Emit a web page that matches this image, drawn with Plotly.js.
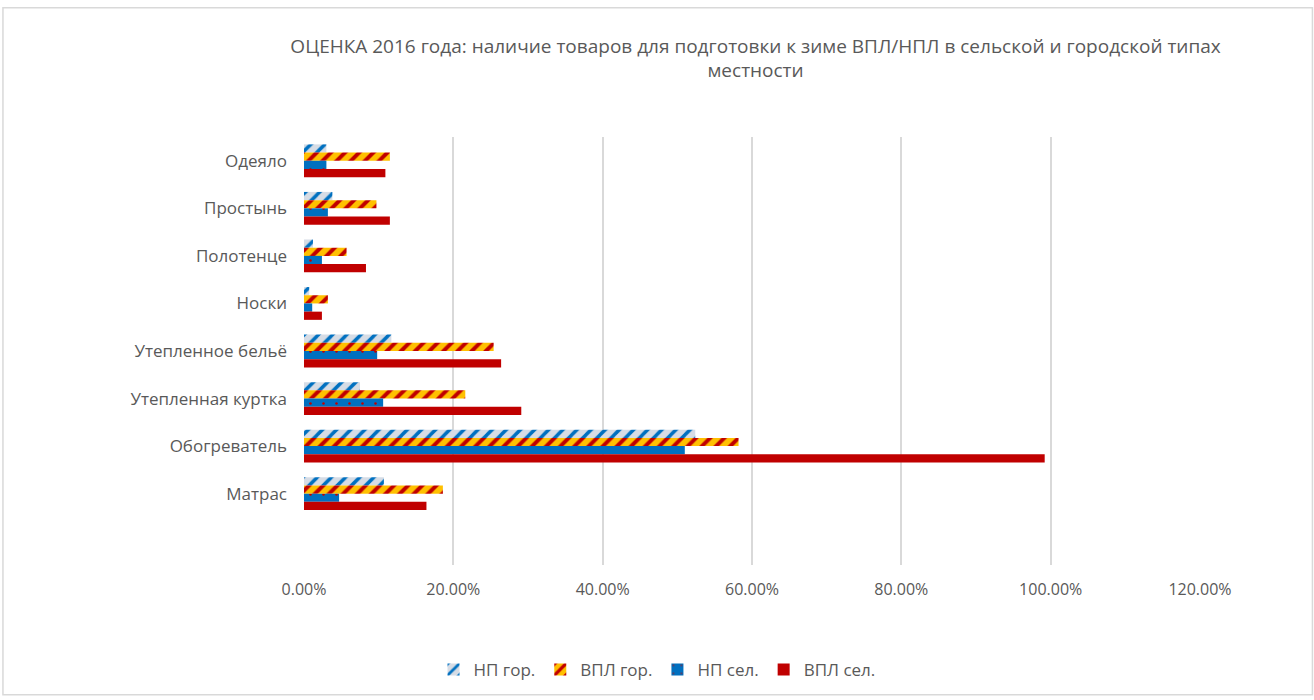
<!DOCTYPE html>
<html>
<head>
<meta charset="utf-8">
<script src="https://cdn.plot.ly/plotly-3.0.1.min.js"></script>
<style>
  html, body { margin: 0; padding: 0; background: #fff; }
  #chart { width: 1314px; height: 700px; }
</style>
</head>
<body>
<div id="chart"></div>
<script>
// Categories (top to bottom as displayed)
const categories = ["Одеяло", "Простынь", "Полотенце", "Носки", "Утепленное бельё", "Утепленная куртка", "Обогреватель", "Матрас"];

// Series values (fractions)
const npGor  = [0.030, 0.038, 0.012, 0.007, 0.117, 0.075, 0.524, 0.107];
const vplGor = [0.115, 0.097, 0.057, 0.032, 0.254, 0.216, 0.582, 0.186];
const npSel  = [0.030, 0.032, 0.024, 0.011, 0.098, 0.106, 0.510, 0.047];
const vplSel = [0.109, 0.115, 0.083, 0.024, 0.264, 0.291, 0.992, 0.164];

const seriesNames = ["НП гор.", "ВПЛ гор.", "НП сел.", "ВПЛ сел."];
const xTicks = [0, 0.2, 0.4, 0.6, 0.8, 1.0, 1.2];

const titleText = "ОЦЕНКА 2016 года: наличие товаров для подготовки к зиме ВПЛ/НПЛ в сельской и городской типах<br>местности";

const fontFamily = "'Open Sans', 'Noto Sans', sans-serif";
const gray = "#595959";

const traces = [
  {
    name: seriesNames[0], y: categories, x: npGor, type: "bar", orientation: "h",
    marker: { color: "#d6dce5", line: { width: 0 },
      pattern: { shape: "/", bgcolor: "#d6dce5", fgcolor: "#0070c0", size: 10, solidity: 0.35, fillmode: "replace" } }
  },
  {
    name: seriesNames[1], y: categories, x: vplGor, type: "bar", orientation: "h",
    marker: { color: "#ffc000", line: { width: 0 },
      pattern: { shape: "/", bgcolor: "#ffc000", fgcolor: "#c00000", size: 10, solidity: 0.4, fillmode: "replace" } }
  },
  {
    name: seriesNames[2], y: categories, x: npSel, type: "bar", orientation: "h",
    marker: { color: "#0070c0", line: { width: 0 },
      pattern: { shape: ".", bgcolor: "#0070c0", fgcolor: "#c00000", size: 13, solidity: 0.03, fillmode: "replace" } }
  },
  {
    name: seriesNames[3], y: categories, x: vplSel, type: "bar", orientation: "h",
    marker: { color: "#c00000", line: { width: 0 } }
  }
];

const layout = {
  width: 1314, height: 700,
  margin: { l: 304, r: 114, t: 137, b: 133 },
  paper_bgcolor: "#ffffff", plot_bgcolor: "#ffffff",
  font: { family: fontFamily, color: gray, size: 16 },
  title: {
    text: titleText,
    font: { family: fontFamily, size: 19, color: gray },
    x: 0.575, xref: "container", xanchor: "center",
    y: 0.925, yref: "container", yanchor: "top"
  },
  barmode: "group",
  bargap: 0.31, bargroupgap: 0,
  xaxis: {
    range: [0, 1.2], tickvals: xTicks, tickformat: ".2%",
    showgrid: true, gridcolor: "#d9d9d9", gridwidth: 2,
    zeroline: false, showline: false, ticks: "",
    ticklabelstandoff: 13,
    tickfont: { size: 16, color: gray }
  },
  yaxis: {
    type: "category",
    categoryorder: "array", categoryarray: categories,
    range: [8.5, -0.5],
    showgrid: false, zeroline: false, showline: false, ticks: "",
    ticklabelstandoff: 16,
    tickfont: { size: 17, color: gray }
  },
  legend: {
    orientation: "h", x: 0.394, xanchor: "center", y: -0.245, yanchor: "middle",
    font: { size: 17, color: gray }, traceorder: "normal",
    itemwidth: 30
  },
  shapes: [{
    type: "rect", xref: "paper", yref: "paper", layer: "below",
    x0: -0.336, x1: 1.1255, y0: -0.303, y1: 1.302,
    line: { color: "#d9d9d9", width: 1.5 }, fillcolor: "rgba(0,0,0,0)"
  }],
  showlegend: true
};

Plotly.newPlot("chart", traces, layout, { displayModeBar: false, staticPlot: true });
</script>
</body>
</html>
